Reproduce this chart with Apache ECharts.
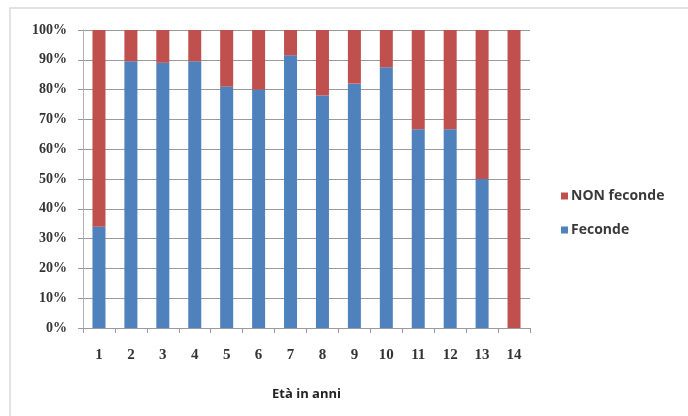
<!DOCTYPE html>
<html><head><meta charset="utf-8">
<script src="https://cdn.jsdelivr.net/npm/echarts@6/dist/echarts.min.js"></script>
<style>html,body{margin:0;padding:0;background:#fff}#c{width:688px;height:416px}</style>
</head><body><div id="c"></div>
<script>
var categories = ['1','2','3','4','5','6','7','8','9','10','11','12','13','14'];
var feconde = [34, 89.5, 89, 89.5, 81, 80, 91.5, 78, 82, 87.5, 66.7, 66.7, 50, 0];
var nonFeconde = [66, 10.5, 11, 10.5, 19, 20, 8.5, 22, 18, 12.5, 33.3, 33.3, 50, 100];
var yTicks = [0,10,20,30,40,50,60,70,80,90,100];

var chart = echarts.init(document.getElementById('c'));
chart.setOption({
  backgroundColor: '#fff',
  animation: false,
  graphic: [{
    type: 'rect', shape: {x: 10, y: 8, width: 700, height: 420},
    style: {fill: 'none', stroke: '#d9d9d9', lineWidth: 1.5}, z: -1
  }],
  grid: {left: 83, right: 158, top: 30, bottom: 88},
  legend: {
    orient: 'vertical', left: 556, top: 184, itemGap: 20,
    itemWidth: 7, itemHeight: 7, icon: 'rect',
    data: ['NON feconde', 'Feconde'],
    textStyle: {fontFamily: 'Open Sans', fontWeight: 'bold', fontSize: 14, color: '#3a3a3a', padding: [0,0,0,-2]}
  },
  xAxis: {
    type: 'category', data: categories,
    name: 'Età in anni', nameLocation: 'middle', nameGap: 60,
    nameTextStyle: {fontFamily: 'Open Sans', fontWeight: 'bold', fontSize: 13, color: '#222'},
    axisLine: {lineStyle: {color: '#9a9a9a'}},
    axisTick: {show: true, length: 5, lineStyle: {color: '#9a9a9a'}},
    axisLabel: {fontFamily: 'Liberation Serif', fontWeight: 'bold', fontSize: 15, color: '#333', margin: 20}
  },
  yAxis: {
    type: 'value', min: 0, max: 100, interval: 10,
    axisLine: {show: true, lineStyle: {color: '#b0b0b0'}},
    axisTick: {show: true, length: 5, lineStyle: {color: '#9a9a9a'}},
    splitLine: {lineStyle: {color: '#9a9a9a'}},
    axisLabel: {fontFamily: 'Liberation Serif', fontWeight: 'bold', fontSize: 14, color: '#333', margin: 16,
      formatter: function(v){ return v + '%'; }}
  },
  series: [
    {name: 'Feconde', type: 'bar', stack: 'a', data: feconde, barWidth: 13,
      itemStyle: {color: '#4f81bd'}},
    {name: 'NON feconde', type: 'bar', stack: 'a', data: nonFeconde, barWidth: 13,
      itemStyle: {color: '#c0504d'}}
  ]
});
</script></body></html>
